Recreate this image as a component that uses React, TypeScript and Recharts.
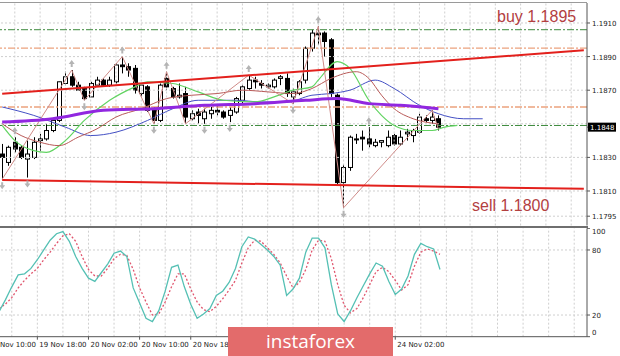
import React from 'react';
import { ComposedChart, Bar, Line, Scatter, XAxis, YAxis, ReferenceLine } from 'recharts';

// H1 candles, bar 0 = 19 Nov 12:00
const open = [
  1.1832, 1.1827, 1.1839, 1.1836, 1.1829, 1.183, 1.184, 1.1841, 1.1846, 1.1852,
  1.1874, 1.1878, 1.1873, 1.1871, 1.1866, 1.1873, 1.1876, 1.1873, 1.1875, 1.1885,
  1.1884, 1.1883, 1.1868, 1.1872, 1.1858, 1.1852, 1.1877, 1.1871, 1.1866, 1.1868,
  1.1853, 1.1857, 1.1853, 1.1856, 1.1858, 1.1857, 1.1855, 1.1857, 1.1864, 1.1871,
  1.1876, 1.1874, 1.1872, 1.1872, 1.1877, 1.1877, 1.1866, 1.1868, 1.1876, 1.1895,
  1.1904, 1.1904, 1.19, 1.1867, 1.1815, 1.1824, 1.1841, 1.1842, 1.1841, 1.1837,
  1.1839, 1.1837, 1.1843, 1.1838, 1.1844, 1.1843, 1.1845, 1.1853, 1.1852, 1.1853,
];
const high = [
  1.1838, 1.1837, 1.1842, 1.1837, 1.184, 1.1842, 1.1844, 1.185, 1.1853, 1.1875,
  1.1881, 1.1882, 1.1875, 1.1872, 1.1875, 1.1878, 1.1877, 1.1878, 1.1886, 1.189,
  1.1886, 1.1885, 1.1874, 1.1873, 1.186, 1.1874, 1.1881, 1.1872, 1.1874, 1.1872,
  1.1858, 1.1859, 1.1859, 1.186, 1.1861, 1.1858, 1.186, 1.1866, 1.1873, 1.1879,
  1.1878, 1.1876, 1.1874, 1.1877, 1.1879, 1.188, 1.1871, 1.1876, 1.1896, 1.1906,
  1.1908, 1.1905, 1.1901, 1.1868, 1.1826, 1.1843, 1.1844, 1.1846, 1.1848, 1.1841,
  1.184, 1.1846, 1.1844, 1.1846, 1.1847, 1.1847, 1.1856, 1.1855, 1.1858, 1.1855,
];
const low = [
  1.1817, 1.1825, 1.1833, 1.1829, 1.1818, 1.1829, 1.1834, 1.184, 1.1845, 1.1851,
  1.1873, 1.1872, 1.187, 1.1864, 1.1866, 1.1872, 1.1872, 1.1872, 1.1874, 1.188,
  1.1878, 1.1868, 1.1866, 1.1857, 1.185, 1.1851, 1.187, 1.1865, 1.1865, 1.185,
  1.1852, 1.185, 1.185, 1.1853, 1.1855, 1.1853, 1.1851, 1.1856, 1.1862, 1.187,
  1.1871, 1.1871, 1.1871, 1.1871, 1.1873, 1.1866, 1.1862, 1.1867, 1.1874, 1.1893,
  1.1897, 1.189, 1.1866, 1.1814, 1.18, 1.1822, 1.1838, 1.1834, 1.1836, 1.1836,
  1.1836, 1.1836, 1.1837, 1.1837, 1.184, 1.1839, 1.1844, 1.1851, 1.185, 1.1846,
];
const close = [
  1.183, 1.1836, 1.1835, 1.183, 1.1832, 1.1839, 1.1841, 1.1846, 1.1852, 1.1875,
  1.1878, 1.1873, 1.187, 1.1865, 1.1874, 1.1876, 1.1873, 1.1876, 1.1885, 1.1884,
  1.1882, 1.187, 1.1873, 1.1858, 1.1852, 1.1873, 1.1872, 1.1866, 1.1867, 1.1854,
  1.1856, 1.1855, 1.1857, 1.1858, 1.1857, 1.1854, 1.1858, 1.1865, 1.1872, 1.1876,
  1.1875, 1.1873, 1.1873, 1.1876, 1.1878, 1.1868, 1.1869, 1.1875, 1.1895, 1.1904,
  1.1903, 1.1899, 1.1868, 1.1815, 1.1824, 1.1842, 1.1841, 1.1841, 1.1838, 1.1839,
  1.184, 1.1842, 1.1838, 1.1842, 1.1845, 1.1846, 1.1854, 1.1852, 1.1854, 1.1848,
];

// moving averages: [bar, price]
const maPurple = [[0, 1.1851], [8, 1.1853], [16, 1.1858], [24, 1.1859], [32, 1.1861], [40, 1.1862], [48, 1.1864], [53, 1.1865], [58, 1.1862], [63, 1.1861], [69, 1.1859]];
const maBlue = [[0, 1.186], [5, 1.1855], [10, 1.1848], [14, 1.1843], [18, 1.1845], [23, 1.1852], [27, 1.1859], [31, 1.1864], [37, 1.1864], [41, 1.1863], [45, 1.1863], [49, 1.1867], [52, 1.1868], [55, 1.187], [59, 1.1876], [62, 1.1871], [66, 1.1861], [69, 1.1856], [73, 1.1853], [76, 1.1853]];
const maGreen = [[0, 1.1849], [2, 1.184], [5, 1.1834], [7, 1.1833], [10, 1.184], [13, 1.1852], [17, 1.1864], [21, 1.1872], [23, 1.1875], [27, 1.1874], [31, 1.1869], [35, 1.1864], [40, 1.1863], [43, 1.1866], [46, 1.187], [49, 1.1872], [50, 1.1876], [53, 1.1887], [55, 1.1883], [58, 1.1864], [60, 1.1855], [62, 1.1849], [65, 1.1846], [68, 1.1846], [70, 1.1848], [72, 1.1849]];
const maBrown = [[0, 1.185], [3, 1.1843], [6, 1.1839], [9, 1.1837], [12, 1.1842], [15, 1.1847], [18, 1.1854], [22, 1.1859], [26, 1.1865], [30, 1.1867], [34, 1.1868], [38, 1.187], [42, 1.1869], [46, 1.1868], [49, 1.1871], [52, 1.1877], [56, 1.1881], [58, 1.1877], [60, 1.1867], [62, 1.1859], [65, 1.1853], [69, 1.185]];
const zigzag = [[0, 1.1817], [11, 1.1882], [13, 1.1864], [19, 1.189], [24, 1.185], [26, 1.1881], [29, 1.185], [39, 1.1879], [46, 1.1862], [50, 1.1908], [54, 1.18], [68, 1.1858], [69, 1.1847]];
const fractalUp = [2, 11, 19, 26, 39, 50, 58];
const fractalDown = [0, 4, 13, 24, 32, 36, 46, 54];
const trendUpper = [[0, 1.18679], [92, 1.18938]];
const trendLower = [[0, 1.18165], [92, 1.18113]];
const levelsGreen = [1.1906, 1.1849];
const levelsOrange = [1.1895, 1.186];
const priceTicks = [1.1795, 1.181, 1.183, 1.1848, 1.187, 1.189, 1.191];
const priceGrid = [1.1795, 1.181, 1.183, 1.185, 1.187, 1.189, 1.191];
const lastPrice = 1.1848;

// stochastic %K and signal, one per bar
const stochMain = [
  23, 34, 46, 57, 58, 63, 71, 80, 89, 95, 97, 88, 74, 63, 54, 51, 59, 67, 77, 79,
  74, 45, 31, 17, 14, 24, 42, 64, 66, 46, 30, 17, 21, 26, 38, 42, 50, 63, 83, 92,
  90, 85, 80, 74, 66, 38, 44, 54, 78, 91, 91, 82, 48, 21, 14, 24, 36, 47, 58, 68,
  65, 51, 39, 44, 56, 76, 86, 83, 81, 62,
];
const stochSignal = [
  26, 30, 36, 45, 52, 58, 63, 71, 78, 86, 93, 95, 88, 74, 62, 56, 56, 63, 72, 76,
  75, 62, 45, 32, 20, 21, 32, 46, 58, 58, 44, 32, 25, 23, 28, 35, 43, 52, 68, 82,
  89, 88, 82, 76, 68, 56, 45, 50, 62, 80, 89, 88, 72, 48, 29, 22, 26, 36, 48, 60,
  64, 60, 52, 43, 48, 65, 78, 81, 79, 76,
];
const stochTicks = [0, 20, 80, 100];
const stochLevels = [20, 80];

// time labels that are not hidden under the watermark
const timeTicks = [6, 14, 22, 30, 62];
const timeLabels = ['19 Nov 18:00', '20 Nov 02:00', '20 Nov 10:00', '20 Nov 18:00', '24 Nov 02:00'];
const firstLabel = '19 Nov 10:00';
const gridBars = [2, 6, 10, 14, 18, 22, 26, 30, 34, 38, 42, 46, 50, 54, 58, 62, 66, 70, 74, 78, 82, 86, 90];

const TOTAL = 93;
const BAND = 588 / TOTAL;
const AXIS_FONT = 'DejaVu Sans, sans-serif';

const toMap = (pts: number[][]) => {
  const m = new Map<number, number>();
  pts.forEach(([i, v]) => m.set(i, v));
  return m;
};
const purpleMap = toMap(maPurple);
const blueMap = toMap(maBlue);
const greenMap = toMap(maGreen);
const brownMap = toMap(maBrown);
const zigMap = toMap(zigzag);
const upMap = toMap(trendUpper);
const lowMap = toMap(trendLower);

const data = Array.from({ length: TOTAL }, (_, i) => {
  const has = i < open.length;
  return {
    i,
    range: has ? [low[i], high[i]] : null,
    o: has ? open[i] : null,
    h: has ? high[i] : null,
    l: has ? low[i] : null,
    c: has ? close[i] : null,
    purple: purpleMap.get(i) ?? null,
    blue: blueMap.get(i) ?? null,
    green: greenMap.get(i) ?? null,
    brown: brownMap.get(i) ?? null,
    zig: zigMap.get(i) ?? null,
    tUp: upMap.get(i) ?? null,
    tLow: lowMap.get(i) ?? null,
    fu: fractalUp.includes(i) ? high[i] : null,
    fd: fractalDown.includes(i) ? low[i] : null,
    k: stochMain[i] ?? null,
    d: stochSignal[i] ?? null,
  };
});

const Candle = (props: any) => {
  const { x, y, width, height, payload } = props;
  if (!payload || payload.o == null) return null;
  const { o, h, l, c } = payload;
  const top = Math.min(y, y + height);
  const hh = Math.abs(height);
  const span = h - l || 1e-9;
  const py = (v: number) => top + ((h - v) / span) * hh;
  const cx = Math.round(x + width / 2) + 0.5;
  const bTop = py(Math.max(o, c));
  const bBot = py(Math.min(o, c));
  const bull = c >= o;
  return (
    <g>
      <line x1={cx} x2={cx} y1={top} y2={top + hh} stroke="#000" strokeWidth={1} />
      <rect x={cx - 2} y={bTop} width={4} height={Math.max(bBot - bTop, 1)} fill={bull ? '#fff' : '#000'} stroke="#000" strokeWidth={1} />
    </g>
  );
};

const UpMark = (props: any) => {
  const { cx, cy, payload } = props;
  if (!payload || payload.fu == null) return null;
  const t = cy - 10;
  return <path d={`M${cx} ${t} l-3 4 h2 v3 h2 v-3 h2 z`} fill="#b4b4b4" />;
};

const DownMark = (props: any) => {
  const { cx, cy, payload } = props;
  if (!payload || payload.fd == null) return null;
  const b = cy + 10;
  return <path d={`M${cx} ${b} l-3 -4 h2 v-3 h2 v3 h2 z`} fill="#b4b4b4" />;
};

const PriceTick = (props: any) => {
  const { x, y, payload } = props;
  const v = payload.value;
  if (Math.abs(v - lastPrice) < 1e-6) {
    return (
      <g>
        <rect x={x - 4} y={y - 4.5} width={28} height={9} fill="#000" />
        <text x={x - 2} y={y + 3} fill="#fff" fontSize={7} fontFamily={AXIS_FONT}>{v.toFixed(4)}</text>
      </g>
    );
  }
  return (
    <text x={x} y={y + 3} fill="#222" fontSize={7} fontFamily={AXIS_FONT}>{v.toFixed(4)}</text>
  );
};

const StochTick = (props: any) => {
  const { x, y, payload } = props;
  const v = payload.value;
  const dy = v === 100 ? 6 : v === 0 ? -2 : 3;
  return <text x={x} y={y + dy} fill="#222" fontSize={7} fontFamily={AXIS_FONT}>{v}</text>;
};

const TimeTick = (props: any) => {
  const { x, y, payload } = props;
  const idx = timeTicks.indexOf(payload.value);
  return (
    <g>
      {idx === 0 && (
        <text x={x + 2 - 8 * BAND} y={y + 6} fill="#222" fontSize={7} fontFamily={AXIS_FONT}>{firstLabel}</text>
      )}
      <text x={x + 2} y={y + 6} fill="#222" fontSize={7} fontFamily={AXIS_FONT}>{timeLabels[idx]}</text>
    </g>
  );
};

const gridStroke = '#cfcfcf';

export default function App() {
  return (
    <div style={{ position: 'relative', width: 620, height: 356, overflow: 'hidden', background: '#fff' }}>
      <style>{'body{margin:0}'}</style>

      <div style={{ position: 'absolute', left: -1, top: 0 }}>
        <ComposedChart width={621} height={225.5} data={data} margin={{ top: 3, right: 0, bottom: 0, left: 0 }}>
          <XAxis dataKey="i" hide />
          <YAxis
            orientation="right"
            width={33}
            domain={[1.178946, 1.19219]}
            allowDataOverflow
            ticks={priceTicks}
            interval={0}
            tick={<PriceTick />}
            tickSize={3}
            tickMargin={2}
            axisLine={{ stroke: '#555' }}
            tickLine={{ stroke: '#555' }}
          />
          {priceGrid.map((p) => (
            <ReferenceLine key={`hg${p}`} y={p} stroke={gridStroke} strokeDasharray="2 2" />
          ))}
          {gridBars.map((b) => (
            <ReferenceLine key={`vg${b}`} x={b} stroke={gridStroke} strokeDasharray="2 2" />
          ))}
          {levelsGreen.map((p) => (
            <ReferenceLine key={`lg${p}`} y={p} stroke="#3d8a3d" strokeDasharray="7 2 2 2" />
          ))}
          {levelsOrange.map((p) => (
            <ReferenceLine key={`lo${p}`} y={p} stroke="#eba27e" strokeWidth={1.3} strokeDasharray="7 2 2 2" />
          ))}
          <Bar dataKey="range" barSize={4} shape={<Candle />} isAnimationActive={false} />
          <Line dataKey="blue" type="monotone" stroke="#4450c4" strokeWidth={1} dot={false} connectNulls isAnimationActive={false} />
          <Line dataKey="green" type="monotone" stroke="#62d462" strokeWidth={1.2} dot={false} connectNulls isAnimationActive={false} />
          <Line dataKey="brown" type="monotone" stroke="#b85a58" strokeWidth={1} dot={false} connectNulls isAnimationActive={false} />
          <Line dataKey="zig" type="linear" stroke="#cf8b88" strokeWidth={1} dot={false} connectNulls isAnimationActive={false} />
          <Line dataKey="purple" type="monotone" stroke="#9127e0" strokeWidth={3} dot={false} connectNulls isAnimationActive={false} />
          <Line dataKey="tUp" type="linear" stroke="#e3201c" strokeWidth={2} dot={false} connectNulls isAnimationActive={false} />
          <Line dataKey="tLow" type="linear" stroke="#e3201c" strokeWidth={2} dot={false} connectNulls isAnimationActive={false} />
          <Scatter dataKey="fu" shape={<UpMark />} isAnimationActive={false} />
          <Scatter dataKey="fd" shape={<DownMark />} isAnimationActive={false} />
        </ComposedChart>
      </div>

      <div style={{ position: 'absolute', left: 0, top: 1.5, width: 587, height: 1, background: '#9a9a9a' }} />
      <div style={{ position: 'absolute', left: 0, top: 225.5, width: 588, height: 2.5, background: '#6f6f6f' }} />

      <div style={{ position: 'absolute', left: -1, top: 228 }}>
        <ComposedChart width={621} height={128} data={data} margin={{ top: 0.3, right: 0, bottom: 0, left: 0 }}>
          <XAxis
            dataKey="i"
            height={19.3}
            ticks={timeTicks}
            interval={0}
            tick={<TimeTick />}
            tickSize={3}
            tickMargin={1}
            axisLine={{ stroke: '#555' }}
            tickLine={{ stroke: '#555' }}
          />
          <YAxis
            orientation="right"
            width={33}
            domain={[0, 100]}
            ticks={stochTicks}
            interval={0}
            tick={<StochTick />}
            tickSize={3}
            tickMargin={2}
            axisLine={{ stroke: '#555' }}
            tickLine={{ stroke: '#555' }}
          />
          {stochLevels.map((v) => (
            <ReferenceLine key={`sl${v}`} y={v} stroke={gridStroke} strokeDasharray="2 2" />
          ))}
          {gridBars.map((b) => (
            <ReferenceLine key={`sg${b}`} x={b} stroke={gridStroke} strokeDasharray="2 2" />
          ))}
          <Line dataKey="d" type="linear" stroke="#e0566e" strokeWidth={1.3} strokeDasharray="2 2" dot={false} isAnimationActive={false} />
          <Line dataKey="k" type="linear" stroke="#55c0b4" strokeWidth={1.3} dot={false} isAnimationActive={false} />
        </ComposedChart>
      </div>

      <svg width={620} height={356} style={{ position: 'absolute', left: 0, top: 0, pointerEvents: 'none' }}>
        <text x={497} y={22} fill="#b3403f" fontSize={16} fontFamily="Liberation Sans, Arial, sans-serif">buy 1.1895</text>
        <text x={472} y={211} fill="#b3403f" fontSize={16} fontFamily="Liberation Sans, Arial, sans-serif">sell 1.1800</text>
      </svg>

      <div
        style={{
          position: 'absolute',
          left: 228,
          top: 327,
          width: 165,
          height: 29,
          background: '#e36b6b',
          color: '#fff',
          fontFamily: 'Open Sans, sans-serif',
          fontSize: 19,
          lineHeight: '29px',
          textAlign: 'center',
        }}
      >
        instaforex
      </div>
    </div>
  );
}
